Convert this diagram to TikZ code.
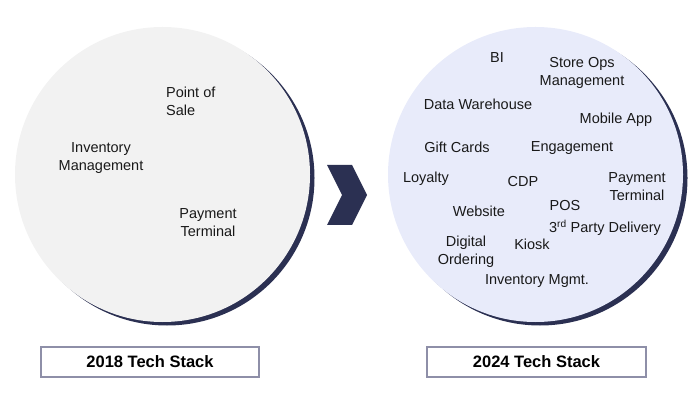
\documentclass[tikz,border=0pt]{standalone}
\usepackage{xcolor}
\usepackage{fontspec}
\setmainfont{Liberation Sans}
\usepackage{tikz}
\usetikzlibrary{positioning,calc}
\definecolor{navy}{RGB}{43,48,82}
\definecolor{oldfill}{RGB}{242,242,242}
\definecolor{newfill}{RGB}{232,235,250}
\definecolor{boxline}{RGB}{142,143,168}
\definecolor{itemtext}{RGB}{25,25,25}

\begin{document}
\begin{tikzpicture}[x=1pt, y=-1pt,
  item/.style={align=center, inner sep=0pt, text=itemtext, font=\fontsize{14.5}{18}\selectfont},
  stackbox/.style={draw=boxline, line width=1.2pt, fill=white, minimum width=218pt, minimum height=30pt,
    inner sep=0pt, font=\fontsize{16.5}{18}\selectfont\bfseries}]
  \useasboundingbox (0,0) rectangle (693,403);
  % 2018 circle
  \fill[navy] (167,178) circle (147.5pt);
  \node[circle, fill=oldfill, minimum size=295pt, inner sep=0pt] (old) at (162.5,174.5) {};
  \node[item, anchor=west, align=left] (pos2018) at (166,101) {Point of\\Sale};
  \node[item] (inv2018) at (101,158) {Inventory\\Management};
  \node[item] (pay2018) at (208,222.5) {Payment\\Terminal};
  % chevron
  \fill[navy] (327,165) -- (352,165) -- (367,195) -- (352,225) -- (327,225) -- (342,195) -- cycle;
  % 2024 circle
  \fill[navy] (540,178) circle (147.5pt);
  \node[circle, fill=newfill, minimum size=295pt, inner sep=0pt] (new) at (535.5,174.5) {};
  \node[item] (bi) at (497,58) {BI};
  \node[item] (storeops) at (582,73) {Store Ops\\Management};
  \node[item] (dwh) at (478,104) {Data Warehouse};
  \node[item] (mobile) at (616,119.5) {Mobile App};
  \node[item] (gift) at (457,147) {Gift Cards};
  \node[item] (engage) at (572,148.5) {Engagement};
  \node[item] (loyalty) at (426,179) {Loyalty};
  \node[item] (cdp) at (523,182) {CDP};
  \node[item] (pay2024) at (637,187) {Payment\\Terminal};
  \node[item] (web) at (479,211) {Website};
  \node[item] (pos) at (565,206) {POS};
  \node[item] (delivery) at (605,228) {3\textsuperscript{rd} Party Delivery};
  \node[item] (digital) at (466,252) {Digital\\Ordering};
  \node[item] (kiosk) at (532,244) {Kiosk};
  \node[item] (inv2024) at (537,281) {Inventory Mgmt.};
  % captions
  \node[stackbox] (stack2018) at (150,362) {2018 Tech Stack};
  \node[stackbox, minimum width=219pt] (stack2024) at (536.5,362) {2024 Tech Stack};
\end{tikzpicture}
\end{document}
